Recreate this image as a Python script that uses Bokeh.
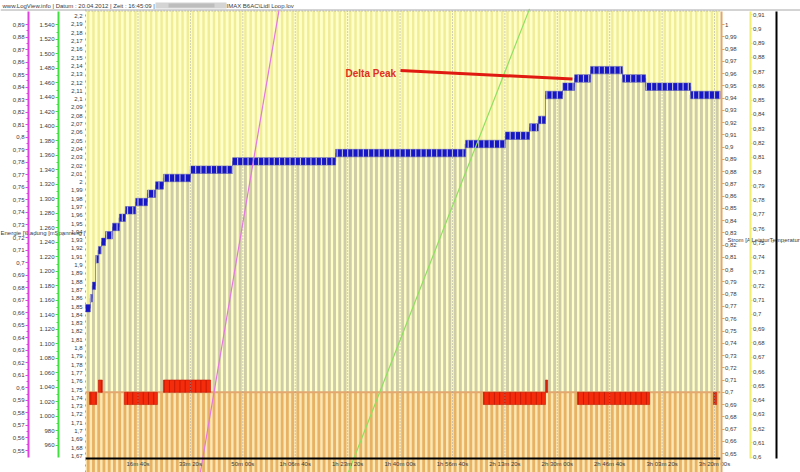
import numpy as np
from bokeh.plotting import figure
from bokeh.models import Range1d, LinearAxis, FixedTicker, CustomJSTickFormatter, Label
from bokeh.embed import file_html
from bokeh.resources import INLINE

# ---------------- data ----------------
header_text = "www.LogView.info | Datum : 20.04.2012 | Zeit : 16:45:09 |"
file_name_text = "IMAX B6AC\\Lidl Loop.lov"

# Spannung [V] as step runs: start time (s) and level (V)
volt_run_start_s = [0, 90, 130, 190, 245, 305, 380, 515, 645, 760, 955, 1180, 1335, 1485,
                    2000, 2805, 4770, 7250, 8010, 8470, 8640, 8775, 9100, 9330, 9635,
                    10245, 10685, 11545]
volt_run_level_v = [1.848, 1.860, 1.875, 1.907, 1.918, 1.928, 1.936, 1.946, 1.957, 1.966,
                    1.976, 1.986, 1.996, 2.005, 2.015, 2.025, 2.035, 2.046, 2.056, 2.066,
                    2.075, 2.105, 2.115, 2.125, 2.135, 2.125, 2.115, 2.105]
log_end_s = 12110
sample_step_s = 100

# Strom [A] as step runs
strom_run_start_s = [0, 75, 210, 245, 320, 740, 1370, 1485, 2385, 7590, 8775, 8815, 9385,
                     10760, 11980, 12040]
strom_run_level_a = [0.70, 0.69, 0.70, 0.71, 0.70, 0.69, 0.70, 0.71, 0.70, 0.69, 0.71, 0.70,
                     0.69, 0.70, 0.69, 0.70]
strom_nominal_a = 0.70

# Energie [Wh] and Ladung [mAh] lines (start / end points inside the view)
energie_t_s = [2190, 3690]
energie_wh = [0.5325, 0.9012]
ladung_t_s = [5015, 8470]
ladung_mah = [923, 1562]

time_tick_s = [1000, 2000, 3000, 4000, 5000, 6000, 7000, 8000, 9000, 10000, 11000, 12000]
time_tick_labels = ["16m 40s", "33m 20s", "50m 00s", "1h 06m 40s", "1h 23m 20s",
                    "1h 40m 00s", "1h 56m 40s", "2h 13m 20s", "2h 30m 00s", "2h 46m 40s",
                    "3h 03m 20s", "3h 20m 00s"]

volt_ticks = [round(1.67 + 0.01 * i, 2) for i in range(54)]
wh_ticks = [round(0.55 + 0.01 * i, 2) for i in range(35)]
mah_ticks = list(range(960, 1541, 20))
amp_ticks = [round(0.65 + 0.01 * i, 2) for i in range(36)]
r2_ticks = [round(0.60 + 0.01 * i, 2) for i in range(32)]

left_axis_titles = ["Energie [Wh]", "Ladung [mAh]", "Spannung [V]"]
right_axis_titles = ["Strom [A]", "Leistung [W]", "Temperatur"]
delta_peak_text = "Delta Peak"
delta_peak_tip = (9290, 2.1242)


def de_dec(v):
    s = f"{v:.2f}".rstrip("0").rstrip(".")
    return s.replace(".", ",")


def de_int(v):
    return f"{int(v):,}".replace(",", ".")


volt_labels = [de_dec(v) for v in volt_ticks]
wh_labels = [de_dec(v) for v in wh_ticks]
mah_labels = [de_int(v) for v in mah_ticks]
amp_labels = [de_dec(v) for v in amp_ticks]
r2_labels = [de_dec(v) for v in r2_ticks]

# ---------------- layout calibration (page pixels -> data) ----------------
T0_X, PX_PER_S = 85.1, 0.05241


def t_at(x):
    return (x - T0_X) / PX_PER_S


def v_at(y):
    return 2.2 - (y - 15.7) / 829.6


def wh_at(y):
    return 0.89 - (y - 24.0) / 1253.0


def mah_at(y):
    return 1540.0 - (y - 24.3) / 0.7253


def amp_at(y):
    return 1.0 - (y - 24.0) / 1226.0


def r2_at(y):
    return 0.91 - (y - 14.0) / 1428.0


W, H = 800, 472
PLOT_TOP = 10.5
AXIS_Y = 458
FONT = "Liberation Sans"
TXT = "#3a3a3a"

p = figure(width=W, height=H,
           x_range=Range1d(t_at(0), t_at(W)),
           y_range=Range1d(v_at(H), v_at(0)),
           x_axis_type=None, y_axis_type=None,
           output_backend="svg", toolbar_location=None, min_border=0,
           outline_line_color=None, background_fill_color="white",
           border_fill_color="white")
p.extra_y_ranges = {
    "wh": Range1d(wh_at(H), wh_at(0)),
    "mah": Range1d(mah_at(H), mah_at(0)),
    "amp": Range1d(amp_at(H), amp_at(0)),
    "r2": Range1d(r2_at(H), r2_at(0)),
}

vb, vt = v_at(H), v_at(PLOT_TOP)

# background of the plot area
p.quad(left=0, right=log_end_s, bottom=vb, top=vt, fill_color="#FFFFC8", line_color=None)

sample_t = np.arange(sample_step_s / 2, log_end_s, sample_step_s)
idx = np.searchsorted(volt_run_start_s, sample_t, side="right") - 1
volt_at_sample = np.array(volt_run_level_v)[idx]

# light stripes across the full height
p.vbar(x=sample_t, width=46, bottom=vb, top=vt, fill_color="#F0EC98", line_color=None)
# voltage bars
p.vbar(x=sample_t, width=54, bottom=vb, top=volt_at_sample, fill_color="#CDCBA8", line_color=None)

# current area
ab = amp_at(H)
p.quad(left=0, right=log_end_s, bottom=ab, top=strom_nominal_a, y_range_name="amp",
       fill_color="#FDE8B4", line_color=None)
p.vbar(x=sample_t, width=54, bottom=ab, top=strom_nominal_a, y_range_name="amp",
       fill_color="#E7B264", line_color=None)
p.segment(x0=[0], y0=[strom_nominal_a], x1=[log_end_s], y1=[strom_nominal_a],
          y_range_name="amp", line_color="#E2A870", line_width=2)

strom_ends = strom_run_start_s[1:] + [log_end_s]
red_runs = [(s, e, l) for s, e, l in zip(strom_run_start_s, strom_ends, strom_run_level_a)
            if abs(l - strom_nominal_a) > 1e-9]
p.quad(left=[r[0] for r in red_runs], right=[r[1] for r in red_runs],
       bottom=[min(r[2], strom_nominal_a) for r in red_runs],
       top=[max(r[2], strom_nominal_a) for r in red_runs],
       y_range_name="amp", fill_color="#F42C0C", line_color="#C41A08", line_width=0.6)
# sample separators inside the red blocks
bounds_t = np.arange(sample_step_s, log_end_s, sample_step_s)
rx, ry0, ry1 = [], [], []
for s, e, l in red_runs:
    for b in bounds_t:
        if s < b < e:
            rx.append(b)
            ry0.append(min(l, strom_nominal_a))
            ry1.append(max(l, strom_nominal_a))
p.segment(x0=rx, x1=rx, y0=ry0, y1=ry1, y_range_name="amp", line_color="#C81A06",
          line_width=1)

# dotted time grid and top border
n = len(time_tick_s)
p.segment(x0=time_tick_s, x1=time_tick_s, y0=[v_at(AXIS_Y)] * n, y1=[vt] * n,
          line_color="#9C9C9C", line_dash="1 2", line_width=1)
p.segment(x0=[0], x1=[log_end_s], y0=[vt], y1=[vt], line_color="#9C9C9C",
          line_dash="1 2", line_width=1)

# voltage step line and blue blocks
p.step(x=volt_run_start_s + [log_end_s], y=volt_run_level_v + [volt_run_level_v[-1]],
       mode="after", line_color="#8A8AA8", line_width=1)
volt_ends = volt_run_start_s[1:] + [log_end_s]
half_h = 0.0045
p.quad(left=volt_run_start_s, right=volt_ends,
       bottom=[v - half_h for v in volt_run_level_v], top=[v + half_h for v in volt_run_level_v],
       fill_color="#1616C4", line_color="#5050B8", line_width=0.5)
bidx = np.searchsorted(volt_run_start_s, bounds_t, side="right") - 1
blev = np.array(volt_run_level_v)[bidx]
p.segment(x0=bounds_t, x1=bounds_t, y0=blev - half_h, y1=blev + half_h,
          line_color="#B8B8D8", line_width=1.2)

# Energie and Ladung lines
p.line(energie_t_s, energie_wh, y_range_name="wh", line_color="#E478E0", line_width=1.2)
p.line(ladung_t_s, ladung_mah, y_range_name="mah", line_color="#8EE060", line_width=1.2)

# Delta Peak annotation
p.segment(x0=[t_at(400)], y0=[v_at(70)], x1=[delta_peak_tip[0]], y1=[delta_peak_tip[1]],
          line_color="#E01A10", line_width=3)
p.add_layout(Label(x=t_at(345), y=v_at(72.5), text=delta_peak_text, text_font=FONT,
                   text_font_style="bold", text_font_size="10px", text_color="#E0301E",
                   text_baseline="middle"))


# ---------------- axes ----------------
def list_formatter(tick_values, tick_texts):
    return CustomJSTickFormatter(args=dict(tv=list(tick_values), tl=list(tick_texts)), code="""
        for (let i = 0; i < tv.length; i++) {
            if (Math.abs(tv[i] - tick) < 1e-7) { return tl[i]; }
        }
        return "";
    """)


def make_axis(range_name, loc, ticks, labels, minor, bounds, color, width=1,
              tick_out=3, minor_out=0, standoff=1, dash="solid"):
    ax = LinearAxis(y_range_name=range_name, fixed_location=loc, bounds=bounds,
                    ticker=FixedTicker(ticks=ticks, minor_ticks=minor),
                    formatter=list_formatter(ticks, labels))
    ax.axis_line_color = color
    ax.axis_line_width = width
    ax.axis_line_dash = dash
    ax.major_tick_line_color = color
    ax.minor_tick_line_color = color
    ax.major_tick_in = 0
    ax.major_tick_out = tick_out
    ax.minor_tick_in = 0
    ax.minor_tick_out = minor_out
    ax.major_label_standoff = standoff
    ax.major_label_text_font = FONT
    ax.major_label_text_font_size = "6px"
    ax.major_label_text_color = TXT
    return ax


wh_minor = [round(0.555 + 0.01 * i, 3) for i in range(34)]
mah_minor = list(range(970, 1540, 20))

p.add_layout(make_axis("wh", t_at(28), wh_ticks, wh_labels, wh_minor,
                       (wh_at(457), wh_at(11)), "#E040E0", width=2, tick_out=3, minor_out=2,
                       standoff=1), "left")
p.add_layout(make_axis("mah", t_at(58), mah_ticks, mah_labels, mah_minor,
                       (mah_at(457), mah_at(11)), "#40E040", width=2, tick_out=3, minor_out=2,
                       standoff=1), "left")
p.add_layout(make_axis("default", 0, volt_ticks, volt_labels, [],
                       (v_at(H), v_at(PLOT_TOP - 2)), "#A8A8A8", width=1, tick_out=0,
                       standoff=3, dash="dotted"), "left")
p.add_layout(make_axis("amp", t_at(720.5), amp_ticks, amp_labels, [],
                       (amp_at(H), amp_at(11)), "#E0A868", width=2, tick_out=3,
                       standoff=1), "right")
p.add_layout(make_axis("r2", t_at(749.5), r2_ticks, r2_labels, [],
                       (r2_at(458), r2_at(11)), "#F2EE70", width=2, tick_out=2,
                       standoff=1), "right")
p.add_layout(make_axis("amp", t_at(776), [], [], [],
                       (amp_at(458), amp_at(11)), "#000000", width=2, tick_out=0,
                       standoff=0), "right")

xax = LinearAxis(fixed_location=v_at(AXIS_Y), bounds=(0, log_end_s),
                 ticker=FixedTicker(ticks=time_tick_s, minor_ticks=[]),
                 formatter=list_formatter(time_tick_s, time_tick_labels))
xax.axis_line_color = "#000000"
xax.axis_line_width = 2
xax.major_tick_line_color = "#000000"
xax.major_tick_in = 0
xax.major_tick_out = 0
xax.major_label_standoff = 2
xax.major_label_text_font = FONT
xax.major_label_text_font_size = "6px"
xax.major_label_text_color = TXT
p.add_layout(xax, "below")

# ---------------- texts ----------------
for txt, x in zip(left_axis_titles, [0, 26, 54]):
    p.add_layout(Label(x=t_at(x), y=v_at(232), text=txt, text_font=FONT, text_font_size="6px",
                       text_color=TXT, text_baseline="middle", background_fill_color="white",
                       level="underlay"))
for txt, x in zip(right_axis_titles, [727, 751, 769]):
    p.add_layout(Label(x=t_at(x), y=v_at(239), text=txt, text_font=FONT, text_font_size="6px",
                       text_color=TXT, text_baseline="middle", background_fill_color="white",
                       level="underlay"))

p.add_layout(Label(x=t_at(2), y=v_at(5), text=header_text, text_font=FONT,
                   text_font_size="6px", text_color=TXT, text_baseline="middle"))
p.quad(left=t_at(155), right=t_at(226), bottom=v_at(8), top=v_at(2),
       fill_color="#D4D4D4", line_color=None)
p.quad(left=t_at(168), right=t_at(214), bottom=v_at(7), top=v_at(3),
       fill_color="#BDBDBD", line_color=None)
p.add_layout(Label(x=t_at(226), y=v_at(5), text=file_name_text, text_font=FONT,
                   text_font_size="6px", text_color=TXT, text_baseline="middle"))
p.segment(x0=[t_at(0)], x1=[t_at(W)], y0=[v_at(9.5)], y1=[v_at(9.5)],
          line_color="#A8A8A8", line_width=1)

open("out.html", "w").write(file_html(p, INLINE))
